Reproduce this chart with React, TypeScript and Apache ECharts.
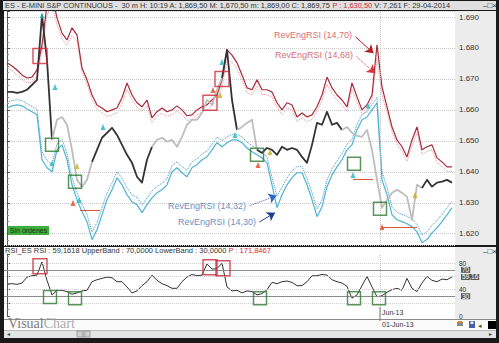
import React, { useEffect, useRef } from "react";
import * as echarts from "echarts";

// ---- data (x = bar index 0..89) ----
const price = [1665.8,1665.8,1665.5,1665.8,1666.5,1668.1,1669.7,1690.6,1676.1,1650.3,
1656.8,1657.7,1655.2,1647.1,1637.4,1635.2,1637.4,1643.2,1647.1,1651.0,
1652.6,1654.2,1651.9,1648.7,1645.5,1642.9,1638.4,1636.5,1643.9,1648.1,
1650.3,1651.0,1649.7,1650.3,1648.1,1651.3,1655.2,1656.8,1656.8,1659.0,
1663.2,1661.6,1666.5,1670.3,1679.4,1663.2,1653.5,1654.5,1655.8,1656.8,
1647.1,1646.1,1647.7,1647.1,1645.5,1648.1,1647.1,1647.7,1647.1,1644.8,
1642.9,1648.7,1655.8,1655.2,1659.4,1655.2,1655.8,1653.5,1654.5,1652.6,
1651.6,1651.3,1653.5,1647.1,1637.4,1628.4,1631.0,1633.2,1634.2,1633.2,
1631.9,1624.5,1635.8,1634.8,1637.4,1635.2,1636.5,1636.8,1637.4,1636.5];

const revEng70 = [1675.2,1674.2,1672.9,1671.3,1670.3,1670.6,1672.9,1681.0,1693.9,1697.1,
1689.7,1684.8,1682.6,1686.5,1684.2,1673.5,1669.7,1664.8,1661.6,1660.6,
1659.4,1660.0,1660.6,1663.9,1668.7,1664.8,1662.3,1661.0,1663.2,1657.4,
1659.4,1660.6,1659.4,1660.0,1661.3,1660.0,1658.1,1658.4,1660.0,1661.0,
1661.6,1663.2,1664.8,1669.7,1679.4,1677.7,1675.2,1671.3,1667.1,1666.5,
1669.7,1666.5,1666.5,1665.8,1662.3,1660.0,1662.3,1661.6,1657.7,1659.0,
1657.7,1658.4,1661.0,1664.8,1670.6,1667.1,1664.8,1663.2,1661.0,1668.7,
1664.2,1660.0,1661.6,1664.8,1681.0,1667.4,1661.0,1654.5,1650.3,1648.1,
1644.8,1650.3,1654.5,1647.1,1648.1,1648.7,1644.5,1643.2,1641.6,1641.6];

const revEng68 = [1673.6,1672.7,1671.4,1669.8,1668.8,1669.0,1670.9,1678.5,1690.5,1694.0,
1687.6,1683.0,1680.9,1684.0,1682.3,1672.2,1668.2,1663.3,1660.1,1659.0,
1657.9,1658.4,1659.0,1662.0,1666.5,1663.3,1660.8,1659.5,1661.4,1656.0,
1657.8,1659.0,1657.9,1658.4,1659.7,1658.5,1656.6,1656.9,1658.4,1659.4,
1660.0,1661.5,1663.0,1667.5,1676.0,1675.4,1673.3,1669.7,1665.6,1664.9,
1667.8,1665.0,1664.9,1664.2,1660.8,1658.5,1660.6,1660.0,1656.2,1657.4,
1656.2,1656.9,1659.4,1663.0,1668.2,1665.4,1663.2,1661.6,1659.5,1666.6,
1662.7,1658.5,1660.0,1663.0,1676.5,1664.8,1659.2,1653.0,1648.8,1646.6,
1643.4,1648.2,1652.6,1645.7,1646.6,1647.1,1643.0,1641.7,1640.2,1640.1];

const revEng30 = [1660.6,1661.3,1661.6,1661.3,1660.3,1659.4,1658.4,1643.9,1641.3,1640.0,
1647.1,1648.7,1643.9,1635.8,1631.0,1627.1,1623.9,1618.1,1621.3,1626.1,
1631.0,1634.2,1638.1,1635.8,1632.6,1630.3,1629.4,1626.8,1629.4,1631.6,
1633.2,1634.2,1635.8,1640.0,1641.3,1639.7,1638.4,1641.3,1642.3,1643.9,
1644.8,1647.1,1649.4,1648.1,1649.4,1650.3,1650.3,1649.4,1647.7,1646.5,
1645.5,1644.5,1642.9,1635.8,1628.4,1632.6,1635.8,1638.1,1639.7,1639.7,
1635.8,1631.0,1625.5,1628.7,1635.2,1639.0,1641.6,1643.9,1647.1,1648.7,
1653.5,1656.8,1657.7,1660.0,1662.3,1637.4,1632.6,1626.1,1624.5,1623.9,
1623.2,1622.3,1620.6,1617.1,1618.1,1620.3,1621.9,1623.9,1626.1,1628.4];

const revEng32 = [1662.4,1663.0,1663.3,1663.0,1662.0,1661.1,1660.2,1646.5,1643.6,1642.3,
1649.0,1650.5,1646.0,1638.0,1633.3,1629.5,1626.3,1620.6,1623.6,1628.4,
1633.2,1636.3,1640.1,1637.9,1634.8,1632.6,1631.7,1629.2,1631.6,1633.8,
1635.3,1636.3,1637.8,1642.0,1643.2,1641.7,1640.5,1643.2,1644.2,1645.8,
1646.7,1648.9,1651.2,1650.0,1651.3,1652.1,1652.1,1651.3,1649.6,1648.4,
1647.4,1646.4,1644.9,1638.2,1632.2,1635.0,1638.0,1640.2,1641.7,1641.7,
1637.9,1633.3,1628.0,1631.0,1637.3,1641.0,1643.5,1645.8,1648.9,1650.5,
1655.3,1658.5,1659.4,1661.7,1664.0,1640.0,1635.0,1628.6,1627.0,1626.3,
1625.6,1624.7,1623.0,1619.6,1620.6,1622.7,1624.3,1626.2,1628.4,1630.6];

const rsi = [48,49,48,50,59,61,62,82,54,32,
39,39,37,33,35,38,39,52,55,57,
59,58,52,52,44,35,38,46,52,62,
54,49,46,42,42,52,59,63,61,62,
79,71,72,80,44,38,39,35,38,37,
32,34,40,51,49,52,53,51,46,46,
52,61,61,63,62,55,52,50,45,27,
32,46,60,44,29,31,36,40,42,39,
57,42,37,50,60,54,52,56,55,59.16];

// price bar shading: inactive (light) bar-index ranges
const lightRanges = [[9, 17], [29, 43.5], [46, 50], [67, 83]];

const redBoxesMain = [[6.6, 1677.4], [40.6, 1662.3], [43, 1670.0]];
const greenBoxesMain = [[9, 1648.7], [13.6, 1636.8], [50, 1645.5], [69.4, 1642.6], [74.6, 1628.1]];
const redBoxesRsi = [[6.6, 75.5], [40.6, 74], [43.2, 72.5]];
const greenBoxesRsi = [[8.6, 28.7], [13.6, 27], [50.6, 27], [69.4, 27], [74.4, 27]];

const cyanMarks = [[7, 1690.6], [9.6, 1667.4], [9, 1642.8], [14.4, 1630.9], [19.2, 1654.5], [43, 1675.5], [45.6, 1651.9], [72.2, 1661.3], [69.2, 1639.0]];
const yellowMarks = [[14, 1641.9], [42.6, 1664.8], [52.6, 1646.4], [81.6, 1632.5]];
const redMarks = [[13.2, 1629.9], [41.2, 1666.4], [50.2, 1642.2], [75, 1622.2]];
const orderLines = [[14.6, 18.6, 1627.7], [75, 82, 1622.2], [69.2, 73.2, 1637.7]];

const yTicks = [1620, 1630, 1640, 1650, 1660, 1670, 1680, 1690];
const rsiTickLabels = [0, 40, 80];
const rsiGuides = [20, 40, 60, 80];
const rsiBands = [70, 30];
const rsiLast = 59.1618;
const dateMark = { at: 74.6, label: "Jun-13", full: "01-Jun-13" };

const notes = [
  { text: "RevEngRSI (14,70)", color: "#cf3f4a", at: [69.3, 1684.2], from: [69.7, 1683.6], to: [73.3, 1678.3], line: "#b81c1c", dash: "solid" },
  { text: "RevEngRSI (14,68)", color: "#cf3f4a", at: [69.5, 1677.7], from: [69.9, 1677.2], to: [73.6, 1671.8], line: "#d23a3a", dash: "dotted" },
  { text: "RevEngRSI (14,32)", color: "#3b6fb6", at: [48.1, 1629.0], from: [48.5, 1629.0], to: [53.9, 1632.3], line: "#2e66c4", dash: "dotted" },
  { text: "RevEngRSI (14,30)", color: "#3b6fb6", at: [50.1, 1623.8], from: [50.5, 1623.8], to: [53.6, 1626.8], line: "#1c3f92", dash: "solid" },
];

const Y_MIN = 1616.36;
const Y_MAX = 1691.94;

const W = 499;
const H = 343;

const isLight = (x: number) => lightRanges.some((r) => x >= r[0] && x < r[1]);

export default function App() {
  const ref = useRef<HTMLDivElement>(null);

  useEffect(() => {
    const chart = echarts.init(ref.current as HTMLDivElement, null, { renderer: "svg", width: W, height: H });
    const pts = (a: number[]) => a.map((v, i) => [i, v]);
    const boxStyle = (c: string) => ({ color: "rgba(0,0,0,0)", borderColor: c, borderWidth: 1.5 });
    const rsiLbl = { fontSize: 6.5, lineHeight: 6, fontFamily: "Liberation Sans" };

    // price path: drawn once from all bars through the axis scales, split by shade
    const renderPrice = (params: any, api: any) => {
      if (params.dataIndex !== 0) return null;
      const segs: { light: boolean; pts: number[][] }[] = [];
      for (let i = 0; i < price.length - 1; i++) {
        const light = isLight(i + 0.5);
        const a = api.coord([i, price[i]]);
        const b = api.coord([i + 1, price[i + 1]]);
        const last = segs[segs.length - 1];
        if (last && last.light === light) last.pts.push(b);
        else segs.push({ light, pts: [a, b] });
      }
      return {
        type: "group",
        children: segs.map((s) => ({
          type: "polyline",
          shape: { points: s.pts },
          style: { stroke: s.light ? "#bdbdbd" : "#333333", lineWidth: 1.8, fill: "none", lineJoin: "round" },
        })),
      };
    };

    const option: any = {
      animation: false,
      backgroundColor: "#1a1a1a",
      grid: [
        { left: 4, right: 44, top: 11, height: 234 },
        { left: 4, right: 44, top: 254, height: 62 },
      ],
      xAxis: [
        { type: "value", gridIndex: 0, min: -0.6, max: 89.6, show: false },
        { type: "value", gridIndex: 1, min: -0.6, max: 89.6, show: false },
      ],
      yAxis: [
        {
          type: "value", gridIndex: 0, position: "right", min: Y_MIN, max: Y_MAX, splitNumber: 8,
          axisLine: { show: true, lineStyle: { color: "#555" } },
          axisTick: { show: true, length: 3, lineStyle: { color: "#555" } },
          minorTick: { show: true, splitNumber: 5, length: 2, lineStyle: { color: "#888" } },
          axisLabel: {
            margin: 4, fontSize: 8, color: "#333", fontFamily: "Liberation Sans",
            formatter: (v: number) => (yTicks.some((t) => Math.abs(t - v) < 1e-6) ? (v / 1000).toFixed(3) : ""),
          },
          splitLine: { show: true, lineStyle: { color: "#c9c9c9", type: "dotted" } },
        },
        {
          type: "value", gridIndex: 1, position: "right", min: 0, max: 94, interval: 20,
          axisLine: { show: true, lineStyle: { color: "#555" } },
          axisTick: { show: true, length: 3, lineStyle: { color: "#555" } },
          minorTick: { show: true, splitNumber: 2, length: 2, lineStyle: { color: "#888" } },
          axisLabel: { margin: 4, color: "#333", ...rsiLbl, formatter: (v: number) => (rsiTickLabels.includes(v) ? String(v) : "") },
          splitLine: { show: false },
        },
      ],
      series: [
        { name: "RevEngRSI (14,68)", type: "line", xAxisIndex: 0, yAxisIndex: 0, data: pts(revEng68), showSymbol: false, silent: true, z: 3, color: "#e4909c", lineStyle: { width: 1, type: "dotted" } },
        { name: "RevEngRSI (14,32)", type: "line", xAxisIndex: 0, yAxisIndex: 0, data: pts(revEng32), showSymbol: false, silent: true, z: 3, color: "#3d93b8", lineStyle: { width: 1, type: "dotted" } },
        { name: "RevEngRSI (14,30)", type: "line", xAxisIndex: 0, yAxisIndex: 0, data: pts(revEng30), showSymbol: false, silent: true, z: 4, color: "#4cb4d2", lineStyle: { width: 1.2 } },
        {
          name: "RevEngRSI (14,70)", type: "line", xAxisIndex: 0, yAxisIndex: 0, data: pts(revEng70), showSymbol: false, silent: true, z: 4,
          color: "#a82a38", lineStyle: { width: 1.2 },
          markLine: {
            silent: true, symbol: "none", label: { show: false },
            data: [{ xAxis: dateMark.at, lineStyle: { color: "#c4c4c4", type: "dotted", width: 1 } }],
          },
        },
        {
          name: "price", type: "custom", xAxisIndex: 0, yAxisIndex: 0, data: pts(price), encode: { x: 0, y: 1 },
          renderItem: renderPrice, silent: true, z: 11, clip: false,
        },
        {
          name: "RSI", type: "line", xAxisIndex: 1, yAxisIndex: 1, data: pts(rsi), showSymbol: false, silent: true, z: 4,
          color: "#333", lineStyle: { width: 1 },
          markLine: {
            silent: true, symbol: "none",
            label: { show: true, position: "end", distance: 6, backgroundColor: "#5b5b5b", color: "#fff", ...rsiLbl, padding: [0, 1, 0, 1] },
            data: [
              ...rsiGuides.map((g) => ({ yAxis: g, label: { show: false }, lineStyle: { color: "#cfcfcf", type: "dotted", width: 1 } })),
              ...rsiBands.map((b) => ({ yAxis: b, label: { formatter: String(b) }, lineStyle: { color: "#8c8c8c", type: "solid", width: 1.2 } })),
              { yAxis: rsiLast, label: { formatter: rsiLast.toFixed(2).replace(".", ",") }, lineStyle: { color: "rgba(0,0,0,0)", width: 0 } },
              { xAxis: dateMark.at, label: { show: false }, lineStyle: { color: "#c4c4c4", type: "dotted", width: 1 } },
            ],
          },
        },
        { type: "scatter", xAxisIndex: 0, yAxisIndex: 0, data: redBoxesMain, symbol: "rect", symbolSize: [14, 15], itemStyle: boxStyle("#d0283a"), silent: true, z: 12 },
        { type: "scatter", xAxisIndex: 0, yAxisIndex: 0, data: greenBoxesMain, symbol: "rect", symbolSize: [13, 13], itemStyle: boxStyle("#2f7a32"), silent: true, z: 12 },
        { type: "scatter", xAxisIndex: 1, yAxisIndex: 1, data: redBoxesRsi, symbol: "rect", symbolSize: [14, 15], itemStyle: boxStyle("#c8283a"), silent: true, z: 12 },
        { type: "scatter", xAxisIndex: 1, yAxisIndex: 1, data: greenBoxesRsi, symbol: "rect", symbolSize: [13, 13], itemStyle: boxStyle("#2f7a32"), silent: true, z: 12 },
        {
          type: "scatter", xAxisIndex: 0, yAxisIndex: 0, silent: true, z: 13, symbol: "triangle", symbolSize: [5, 6],
          data: [
            ...cyanMarks.map((m) => ({ value: m, itemStyle: { color: "#22b7c2" } })),
            ...yellowMarks.map((m) => ({ value: m, itemStyle: { color: "#c7ad1e" } })),
            ...redMarks.map((m) => ({ value: m, itemStyle: { color: "#e2471f" } })),
          ],
          markLine: {
            silent: true, symbol: "none", label: { show: false },
            data: orderLines.map((o) => [{ coord: [o[0], o[2]], lineStyle: { color: "#d65a3a", width: 1, type: "solid" } }, { coord: [o[1], o[2]] }]),
          },
        },
        {
          type: "scatter", xAxisIndex: 0, yAxisIndex: 0, silent: true, z: 14, symbolSize: 1, itemStyle: { color: "rgba(0,0,0,0)" },
          data: notes.map((n) => ({
            value: n.at,
            label: { show: true, position: "left", distance: 1, formatter: n.text, color: n.color, fontSize: 9, fontFamily: "Liberation Sans" },
          })),
          markLine: {
            silent: true, symbol: ["none", "arrow"], symbolSize: 8, label: { show: false },
            data: notes.map((n) => [{ coord: n.from, lineStyle: { color: n.line, type: n.dash, width: 1 }, itemStyle: { color: n.line } }, { coord: n.to }]),
          },
        },
      ],
    };

    chart.setOption(option);

    const dx = chart.convertToPixel({ xAxisIndex: 1 }, dateMark.at) as number;
    const bg = (x: number, y: number, w: number, h: number, fill: string, z = -1) => ({ type: "rect", silent: true, z, shape: { x, y, width: w, height: h }, style: { fill } });
    const txt = (x: number, y: number, text: string, extra: any = {}, z = 20) => ({
      type: "text", silent: true, z, x, y,
      style: { text, fontSize: 7, fontFamily: "Liberation Sans", fill: "#333", verticalAlign: "middle", ...extra },
    });

    chart.setOption({
      graphic: [
        bg(3, 1, 493, 9, "#e0e0e0"),
        bg(4, 11, 451, 234, "#ffffff"),
        bg(455, 11, 41, 234, "#ececec"),
        bg(4, 247, 451, 72, "#ffffff"),
        bg(455, 247, 41, 72, "#ececec"),
        bg(4, 319, 492, 1, "#8a8a8a"),
        bg(4, 320, 492, 10, "#fbfbfb"),
        bg(4, 330, 492, 8, "#e4e4e4"),
        bg(4, 330, 492, 0.8, "#aaaaaa"),
        {
          type: "text", silent: true, z: 20, x: 5, y: 5.6,
          style: {
            text: "{a|ES - E-MINI S&P CONTINUOUS -  30 m H: 10:19 A: 1,869,50 M: 1,670,50 m: 1,869,00 C: 1,869,75 }{r|P : 1,630,50}{a| V: 7,261 F: 29-04-2014}",
            verticalAlign: "middle", fontSize: 7.4, fontFamily: "Liberation Sans",
            rich: { a: { fill: "#333", fontSize: 7.4, fontFamily: "Liberation Sans" }, r: { fill: "#d0283a", fontSize: 7.4, fontFamily: "Liberation Sans" } },
          },
        },
        txt(483, 5.5, "–□×", { fontSize: 8, fill: "#333" }),
        {
          type: "text", silent: true, z: 20, x: 5, y: 250.5,
          style: {
            text: "{a|RSI_ES RSI : 59,1618 UpperBand : 70,0000 LowerBand : 30,0000 }{r|P : 171,8467}",
            verticalAlign: "middle", fontSize: 7.5, fontFamily: "Liberation Sans",
            rich: { a: { fill: "#333", fontSize: 7.5, fontFamily: "Liberation Sans" }, r: { fill: "#d0283a", fontSize: 7.5, fontFamily: "Liberation Sans" } },
          },
        },
        txt(483, 251, "–□×", { fontSize: 8, fill: "#333" }),
        bg(8, 226, 41, 9, "#3fae3f", 20),
        txt(28.5, 230.5, "Sin órdenes", { align: "center", fill: "#123312" }, 21),
        { type: "line", silent: true, z: 20, shape: { x1: dx, y1: 307, x2: dx, y2: 321 }, style: { stroke: "#777", lineWidth: 1 } },
        txt(dx + 2, 312.5, dateMark.label),
        txt(dx + 2, 324.5, dateMark.full),
        {
          type: "text", silent: true, z: 20, x: 8, y: 323,
          style: {
            text: "{v|Visual}{c|Chart}", verticalAlign: "middle",
            rich: { v: { fill: "#7d7d7d", fontSize: 14, fontFamily: "Liberation Serif" }, c: { fill: "#ababab", fontSize: 14, fontFamily: "Liberation Serif" } },
          },
        },
        bg(77, 331, 13, 6, "#d2d2d2", 20),
        { type: "rect", silent: true, z: 21, shape: { x: 77, y: 331, width: 13, height: 6 }, style: { fill: "none", stroke: "#8a8a8a", lineWidth: 0.8 } },
        txt(83.5, 334, "|||", { align: "center", fontSize: 5, fill: "#777" }, 22),
        txt(7, 334, "◂", { fontSize: 6, fill: "#444" }),
        txt(489, 334, "▸", { fontSize: 6, fill: "#444" }),
        bg(457, 322, 6, 4, "#8a8a8a", 20),
        bg(458, 321, 4, 2, "#d08a30", 21),
        bg(469, 321, 6, 7, "#4a5fb0", 20),
        bg(470.5, 321.5, 3, 2.5, "#e8e8e8", 21),
        txt(478, 325, "◂", { fontSize: 7, fill: "#555" }),
        bg(488, 321, 8, 8, "#000000", 20),
      ],
    });

    return () => chart.dispose();
  }, []);

  return <div ref={ref} style={{ position: "fixed", left: 0, top: 0, width: W, height: H }} />;
}
